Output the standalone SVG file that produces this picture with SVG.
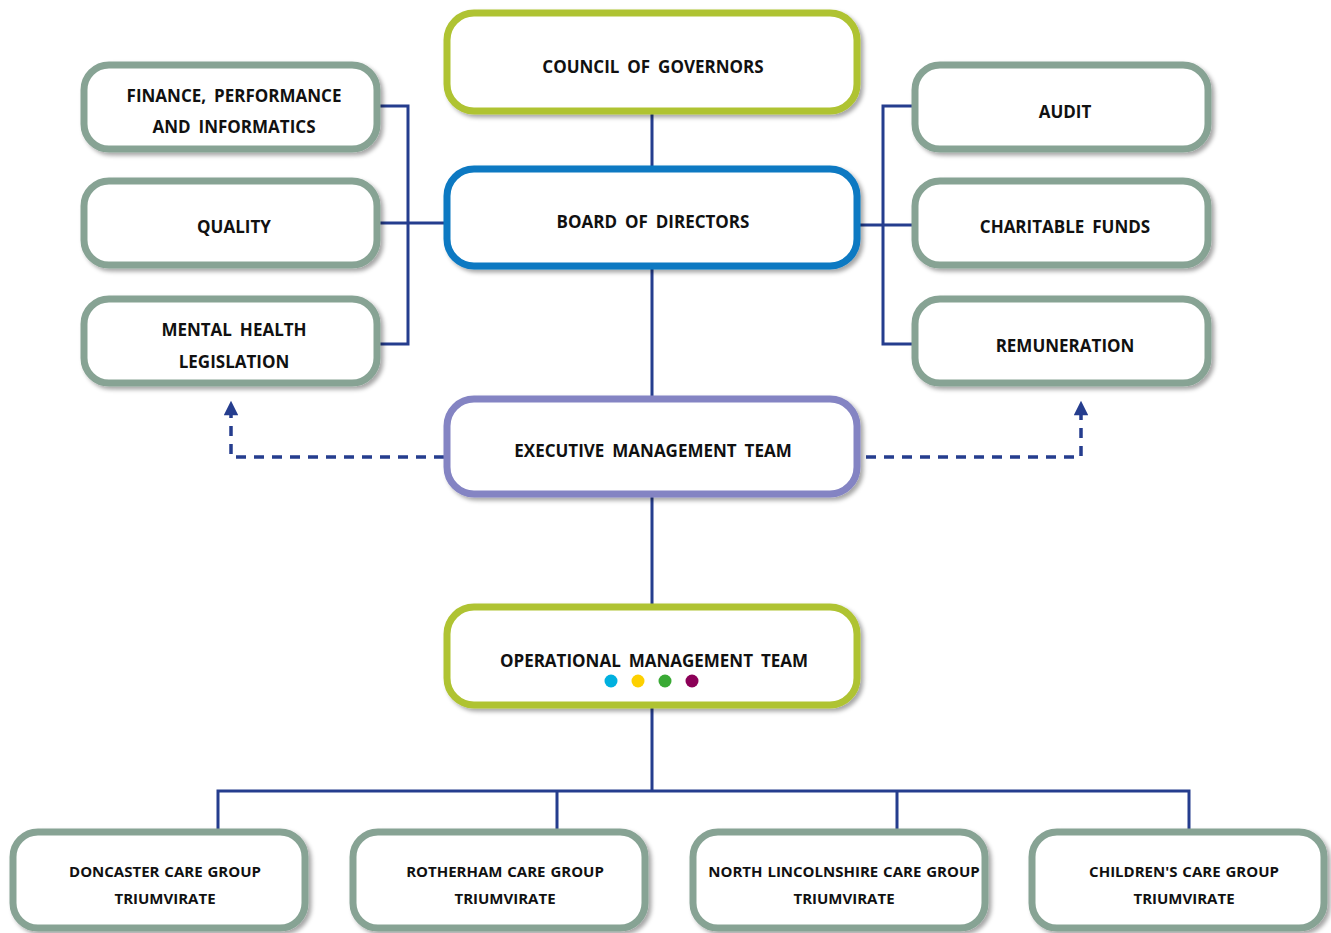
<svg xmlns="http://www.w3.org/2000/svg" width="1331" height="933" viewBox="0 0 1331 933">
<defs>
<filter id="sh" x="-10%" y="-10%" width="125%" height="135%">
<feDropShadow dx="3" dy="3" stdDeviation="2" flood-color="#000" flood-opacity="0.35"/>
</filter>
<marker id="arr" viewBox="0 0 10 10" refX="5" refY="5" markerWidth="5" markerHeight="4.2" orient="auto">
<path d="M0,0 L10,5 L0,10 Z" fill="#253d8e"/>
</marker>
</defs>
<style>
.box{fill:#fff;stroke-width:7;filter:url(#sh)}
.g{stroke:#87a394}
.lime{stroke:#afc332}
.blue{stroke:#0a79c2}
.pur{stroke:#8484c3}
.t{font-family:"Open Sans","Noto Sans",sans-serif;font-weight:bold;font-size:17px;fill:#111;text-anchor:middle;word-spacing:3.5px}
.s{font-family:"Open Sans","Noto Sans",sans-serif;font-weight:bold;font-size:15px;fill:#111;text-anchor:middle;word-spacing:1px}
.ln{fill:none;stroke:#253d8e;stroke-width:3}
.dash{fill:none;stroke:#253d8e;stroke-width:3.5;stroke-dasharray:10,8}
</style>
<g id="connectors">
<path class="ln" d="M652,114 V166 M652,269 V396 M652,497 V604 M652,708 V791"/>
<path class="ln" d="M218,829 V791 H1189 V829 M557,791 V829 M897,791 V829"/>
<path class="ln" d="M380,106 H408 V344 H380 M380,223 H444"/>
<path class="ln" d="M912,106 H883 V344 H912 M860,225 H912"/>
<path class="dash" d="M444,457 H231 V408" marker-end="url(#arr)"/>
<path class="dash" d="M866,457 H1081 V408" marker-end="url(#arr)"/>
</g>
<g id="council"><rect class="box lime" x="447" y="13" width="410" height="98" rx="27"/><text class="t" x="653" y="73">COUNCIL OF GOVERNORS</text></g>
<g id="board"><rect class="box blue" x="447" y="169" width="410" height="97" rx="27"/><text class="t" x="653" y="228">BOARD OF DIRECTORS</text></g>
<g id="exec"><rect class="box pur" x="447" y="399" width="410" height="95" rx="27"/><text class="t" x="653" y="457">EXECUTIVE MANAGEMENT TEAM</text></g>
<g id="omt"><rect class="box lime" x="447" y="607" width="410" height="98" rx="27"/><text class="t" x="654" y="667">OPERATIONAL MANAGEMENT TEAM</text>
<circle cx="611" cy="681" r="6.5" fill="#00b0df"/><circle cx="638" cy="681" r="6.5" fill="#fdd000"/><circle cx="665" cy="681" r="6.5" fill="#3aaa35"/><circle cx="692" cy="681" r="6.5" fill="#8c0058"/></g>
<g id="finance"><rect class="box g" x="84" y="65" width="293" height="84" rx="25"/><text class="t" x="234" y="102">FINANCE, PERFORMANCE</text><text class="t" x="234" y="133">AND INFORMATICS</text></g>
<g id="quality"><rect class="box g" x="84" y="181" width="293" height="84" rx="25"/><text class="t" x="234" y="233">QUALITY</text></g>
<g id="mental"><rect class="box g" x="84" y="299" width="293" height="84" rx="25"/><text class="t" x="234" y="336">MENTAL HEALTH</text><text class="t" x="234" y="368">LEGISLATION</text></g>
<g id="audit"><rect class="box g" x="915" y="65" width="293" height="84" rx="25"/><text class="t" x="1065" y="118">AUDIT</text></g>
<g id="charitable"><rect class="box g" x="915" y="181" width="293" height="84" rx="25"/><text class="t" x="1065" y="233">CHARITABLE FUNDS</text></g>
<g id="remuneration"><rect class="box g" x="915" y="299" width="293" height="84" rx="25"/><text class="t" x="1065" y="352">REMUNERATION</text></g>
<g id="doncaster"><rect class="box g" x="13" y="832" width="292" height="96" rx="25"/><text class="s" x="165" y="877">DONCASTER CARE GROUP</text><text class="s" x="165" y="904">TRIUMVIRATE</text></g>
<g id="rotherham"><rect class="box g" x="353" y="832" width="292" height="96" rx="25"/><text class="s" x="505" y="877">ROTHERHAM CARE GROUP</text><text class="s" x="505" y="904">TRIUMVIRATE</text></g>
<g id="northlincs"><rect class="box g" x="693" y="832" width="292" height="96" rx="25"/><text class="s" x="844" y="877">NORTH LINCOLNSHIRE CARE GROUP</text><text class="s" x="844" y="904">TRIUMVIRATE</text></g>
<g id="childrens"><rect class="box g" x="1032" y="832" width="292" height="96" rx="25"/><text class="s" x="1184" y="877">CHILDREN'S CARE GROUP</text><text class="s" x="1184" y="904">TRIUMVIRATE</text></g>
</svg>
